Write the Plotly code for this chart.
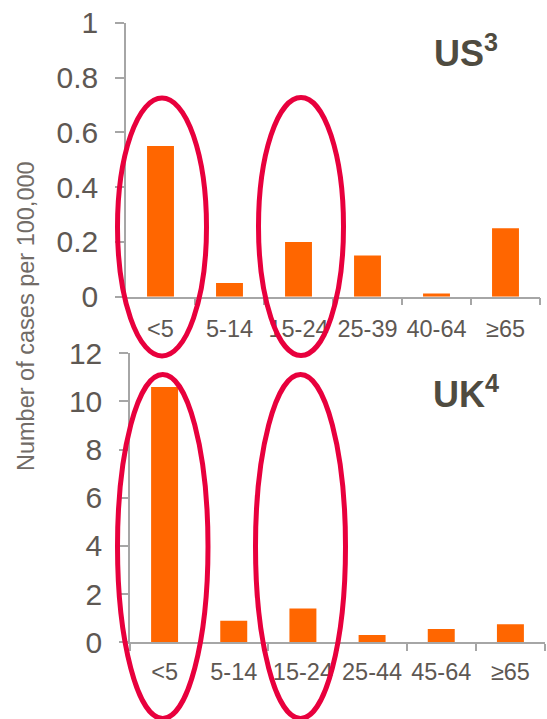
import plotly.graph_objects as go

# Incidence by age group (cases per 100,000)
us_groups = ["<5", "5-14", "15-24", "25-39", "40-64", "≥65"]
us_rates = [0.55, 0.05, 0.20, 0.15, 0.012, 0.25]

uk_groups = ["<5", "5-14", "15-24", "25-44", "45-64", "≥65"]
uk_rates = [10.6, 0.9, 1.4, 0.3, 0.55, 0.75]

W, H = 547, 719
BAR = "#FF6600"
AXIS = "#A6A6A6"
TICK_TXT = "#5E5853"
TITLE_TXT = "#4F4B40"
RING = "#E8003D"
FONT = "Arial, Liberation Sans, sans-serif"


def px(x):
    return x / W


def py(y):
    return 1 - y / H


fig = go.Figure()
fig.add_trace(go.Bar(x=us_groups, y=us_rates, marker=dict(color=BAR, line=dict(width=0)),
                     xaxis="x", yaxis="y", showlegend=False))
fig.add_trace(go.Bar(x=uk_groups, y=uk_rates, marker=dict(color=BAR, line=dict(width=0)),
                     xaxis="x2", yaxis="y2", showlegend=False))

xcommon = dict(type="category", showline=True, linecolor=AXIS, linewidth=1.5,
               ticks="outside", tickson="boundaries", ticklen=7, tickwidth=1.5,
               tickcolor=AXIS, showgrid=False, zeroline=False, automargin=False,
               tickangle=0,
               tickfont=dict(family=FONT, size=23.5, color=TICK_TXT))
ycommon = dict(showline=True, linecolor=AXIS, linewidth=1.5, ticks="outside",
               ticklen=9, tickwidth=1.5, tickcolor=AXIS, showgrid=False,
               zeroline=False, automargin=False,
               tickfont=dict(family=FONT, size=30, color=TICK_TXT),
               ticklabelstandoff=11)

fig.update_layout(
    width=W, height=H,
    margin=dict(l=0, r=0, t=0, b=0, autoexpand=False),
    paper_bgcolor="white", plot_bgcolor="white",
    bargap=0.61,
    xaxis=dict(domain=[px(126), px(540)], anchor="y", ticklabelstandoff=10, **xcommon),
    yaxis=dict(domain=[py(296.7), py(22.7)], anchor="x", range=[0, 1], dtick=0.2, **ycommon),
    xaxis2=dict(domain=[px(130), px(545)], anchor="y2", ticklabelstandoff=8, **xcommon),
    yaxis2=dict(domain=[py(642.3), py(353.3)], anchor="x2", range=[0, 12], dtick=2, **ycommon),
)

# Panel titles and shared y-axis title
fig.add_annotation(x=px(466), y=py(51), xref="paper", yref="paper", showarrow=False,
                   xanchor="center", yanchor="middle",
                   text="<b>US<sup>3</sup></b>",
                   font=dict(family=FONT, size=36, color=TITLE_TXT))
fig.add_annotation(x=px(466), y=py(392), xref="paper", yref="paper", showarrow=False,
                   xanchor="center", yanchor="middle",
                   text="<b>UK<sup>4</sup></b>",
                   font=dict(family=FONT, size=36, color=TITLE_TXT))
fig.add_annotation(x=px(26), y=py(316), xref="paper", yref="paper", showarrow=False,
                   xanchor="center", yanchor="middle",
                   text="Number of cases per 100,000", textangle=-90,
                   font=dict(family=FONT, size=23.5, color="#716B66"))

# Highlight rings around the <5 and 15-24 groups
rings = [
    (117.5, 98, 206.5, 356),
    (258.5, 97.5, 343.5, 355.5),
    (117.5, 374.5, 208, 718.5),
    (255.5, 374.5, 345.5, 718.5),
]
for x0, y0, x1, y1 in rings:
    fig.add_shape(type="circle", xref="paper", yref="paper",
                  x0=px(x0), x1=px(x1), y0=py(y1), y1=py(y0),
                  line=dict(color=RING, width=5), fillcolor="rgba(0,0,0,0)",
                  layer="above")

fig.write_html("out.html")
